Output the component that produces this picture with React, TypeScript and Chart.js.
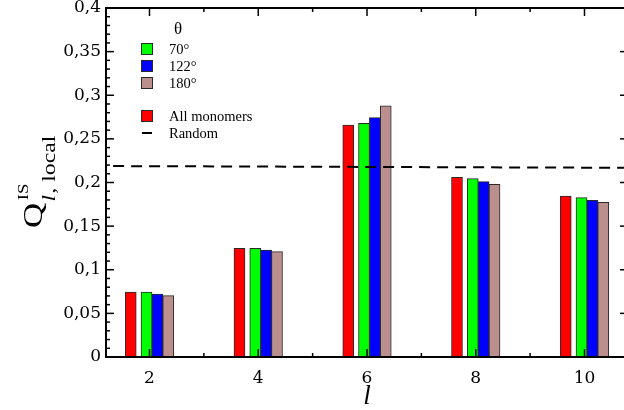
import React, { useEffect, useRef } from "react";
import { Chart, registerables } from "chart.js";

Chart.register(...registerables);

// ---- data ----
const categories = [2, 4, 6, 8, 10];
const allMonomers = [0.0745, 0.1246, 0.2659, 0.2059, 0.1845];
const theta70 = [0.0745, 0.1246, 0.2678, 0.2044, 0.1826];
const theta122 = [0.0722, 0.1226, 0.2743, 0.201, 0.1796];
const theta180 = [0.0703, 0.1207, 0.288, 0.1979, 0.1773];
const randomL = [1, 11];
const randomQ = [0.2189, 0.2168];
const legendLabels = ["70°", "122°", "180°"];

const SERIF = "'Liberation Serif', 'Times New Roman', serif";
const TICKFONT = "'DejaVu Serif', serif";
const RED = "#ff0000";
const GREEN = "#00ff00";
const BLUE = "#0000ff";
const BROWN = "#bc8f8f";
const EDGE = "#2a2a2a";

const fmt = (v: number) =>
  Number(v).toFixed(2).replace(/0+$/, "").replace(/\.$/, "").replace(".", ",");

const barSet = (label: string, values: number[], color: string, shift: number) => ({
  type: "bar" as const,
  label,
  data: categories.map((l, i) => ({ x: l + shift, y: values[i] })),
  backgroundColor: color,
  borderColor: EDGE,
  borderWidth: 1,
  borderSkipped: "bottom" as const,
  barThickness: 11,
  grouped: false,
  order: 2,
});

const framePlugin = {
  id: "frameTicks",
  afterDatasetsDraw(chart: any) {
    const { ctx, chartArea: a, scales } = chart;
    const x = scales.x;
    const y = scales.y;
    ctx.save();
    ctx.strokeStyle = "#000";
    ctx.lineWidth = 1.5;
    const seg = (x1: number, y1: number, x2: number, y2: number) => {
      ctx.beginPath();
      ctx.moveTo(x1, y1);
      ctx.lineTo(x2, y2);
      ctx.stroke();
    };
    for (let i = 0; i <= 40; i++) {
      const py = y.getPixelForValue(i / 100);
      const len = i % 5 === 0 ? 8 : 4;
      seg(a.left, py, a.left + len, py);
      seg(a.right, py, a.right - len, py);
    }
    for (let l = 2; l <= 10; l++) {
      const px = x.getPixelForValue(l);
      const len = l % 2 === 0 ? 8 : 4;
      seg(px, a.bottom, px, a.bottom - len);
      seg(px, a.top, px, a.top + len);
    }
    ctx.lineWidth = 2;
    ctx.strokeRect(a.left, a.top, a.right - a.left, a.bottom - a.top);
    ctx.restore();
  },
};

const textPlugin = {
  id: "texts",
  afterDraw(chart: any) {
    const { ctx, chartArea: a } = chart;
    ctx.save();
    ctx.fillStyle = "#000";
    // ---- legend ----
    const bx = a.left + 35;
    const tx = a.left + 63;
    ctx.font = `17px ${SERIF}`;
    ctx.textAlign = "center";
    ctx.textBaseline = "middle";
    ctx.fillText("θ", a.left + 72, 30);
    ctx.textAlign = "left";
    ctx.font = `14.5px ${SERIF}`;
    const items = [
      { c: GREEN, t: legendLabels[0], y: 49 },
      { c: BLUE, t: legendLabels[1], y: 66 },
      { c: BROWN, t: legendLabels[2], y: 83 },
      { c: RED, t: "All monomers", y: 116 },
    ];
    for (const it of items) {
      ctx.fillStyle = it.c;
      ctx.fillRect(bx, it.y - 6, 12, 12);
      ctx.strokeStyle = EDGE;
      ctx.lineWidth = 1;
      ctx.strokeRect(bx + 0.5, it.y - 5.5, 11, 11);
      ctx.fillStyle = "#000";
      ctx.fillText(it.t, tx, it.y + 1);
    }
    ctx.strokeStyle = "#000";
    ctx.lineWidth = 2;
    ctx.beginPath();
    ctx.moveTo(bx + 1, 133);
    ctx.lineTo(bx + 11, 133);
    ctx.stroke();
    ctx.fillText("Random", tx, 134);

    // ---- x title ----
    ctx.textAlign = "center";
    ctx.textBaseline = "alphabetic";
    ctx.font = `italic 27px ${SERIF}`;
    ctx.fillText("l", (a.left + a.right) / 2, 404);

    // ---- y title ----
    ctx.save();
    ctx.translate(0, 228);
    ctx.rotate(-Math.PI / 2);
    ctx.scale(1.25, 1);
    ctx.textAlign = "left";
    ctx.font = `28px ${SERIF}`;
    ctx.fillText("Q", 0, 41.5);
    const qw = ctx.measureText("Q").width;
    ctx.font = `15px ${SERIF}`;
    ctx.fillText("IS", qw + 2, 28);
    ctx.font = `italic 19px ${SERIF}`;
    ctx.fillText("l", qw + 1, 55);
    const lw = ctx.measureText("l").width;
    ctx.font = `19px ${SERIF}`;
    ctx.fillText(", local", qw + 1 + lw + 1, 55);
    ctx.restore();

    ctx.restore();
  },
};

export default function App() {
  const ref = useRef<HTMLCanvasElement | null>(null);
  useEffect(() => {
    if (!ref.current) return;
    const chart = new Chart(ref.current, {
      type: "bar",
      data: {
        datasets: [
          {
            type: "line" as const,
            label: "Random",
            data: randomL.map((l, i) => ({ x: l, y: randomQ[i] })),
            borderColor: "#000",
            borderWidth: 2,
            borderDash: [11, 7],
            pointRadius: 0,
            fill: false,
            order: 0,
          } as any,
          barSet("All monomers", allMonomers, RED, -0.345),
          barSet(legendLabels[0], theta70, GREEN, -0.055),
          barSet(legendLabels[1], theta122, BLUE, 0.145),
          barSet(legendLabels[2], theta180, BROWN, 0.345),
        ],
      },
      options: {
        responsive: false,
        animation: false,
        layout: { padding: { top: 8, right: 4, left: 0, bottom: 0 } },
        plugins: { legend: { display: false }, tooltip: { enabled: false } },
        scales: {
          x: {
            type: "linear",
            min: 1.2,
            max: 10.8,
            offset: false,
            grid: { display: false, offset: false, drawTicks: false },
            border: { display: false },
            afterBuildTicks: (s: any) => {
              s.ticks = categories.map((v) => ({ value: v }));
            },
            afterFit: (s: any) => {
              s.height = 53;
              s.paddingLeft = 0;
              s.paddingRight = 0;
            },
            ticks: {
              padding: 11,
              color: "#000",
              font: { family: TICKFONT, size: 17 },
              callback: (v: any) => String(v),
            },
          },
          y: {
            type: "linear",
            min: 0,
            max: 0.4,
            grid: { display: false, drawTicks: false },
            border: { display: false },
            afterFit: (s: any) => {
              s.width = 106;
              s.paddingTop = 0;
              s.paddingBottom = 0;
            },
            ticks: {
              stepSize: 0.05,
              padding: 5,
              color: "#000",
              font: { family: TICKFONT, size: 17 },
              callback: (v: any) => fmt(v),
            },
          },
        },
      } as any,
      plugins: [framePlugin, textPlugin],
    });
    return () => chart.destroy();
  }, []);
  return (
    <div
      style={{
        position: "fixed",
        left: 0,
        top: 0,
        width: 624,
        height: 410,
        overflow: "hidden",
        background: "#fff",
      }}
    >
      <canvas ref={ref} width={632} height={410} style={{ display: "block" }} />
    </div>
  );
}
